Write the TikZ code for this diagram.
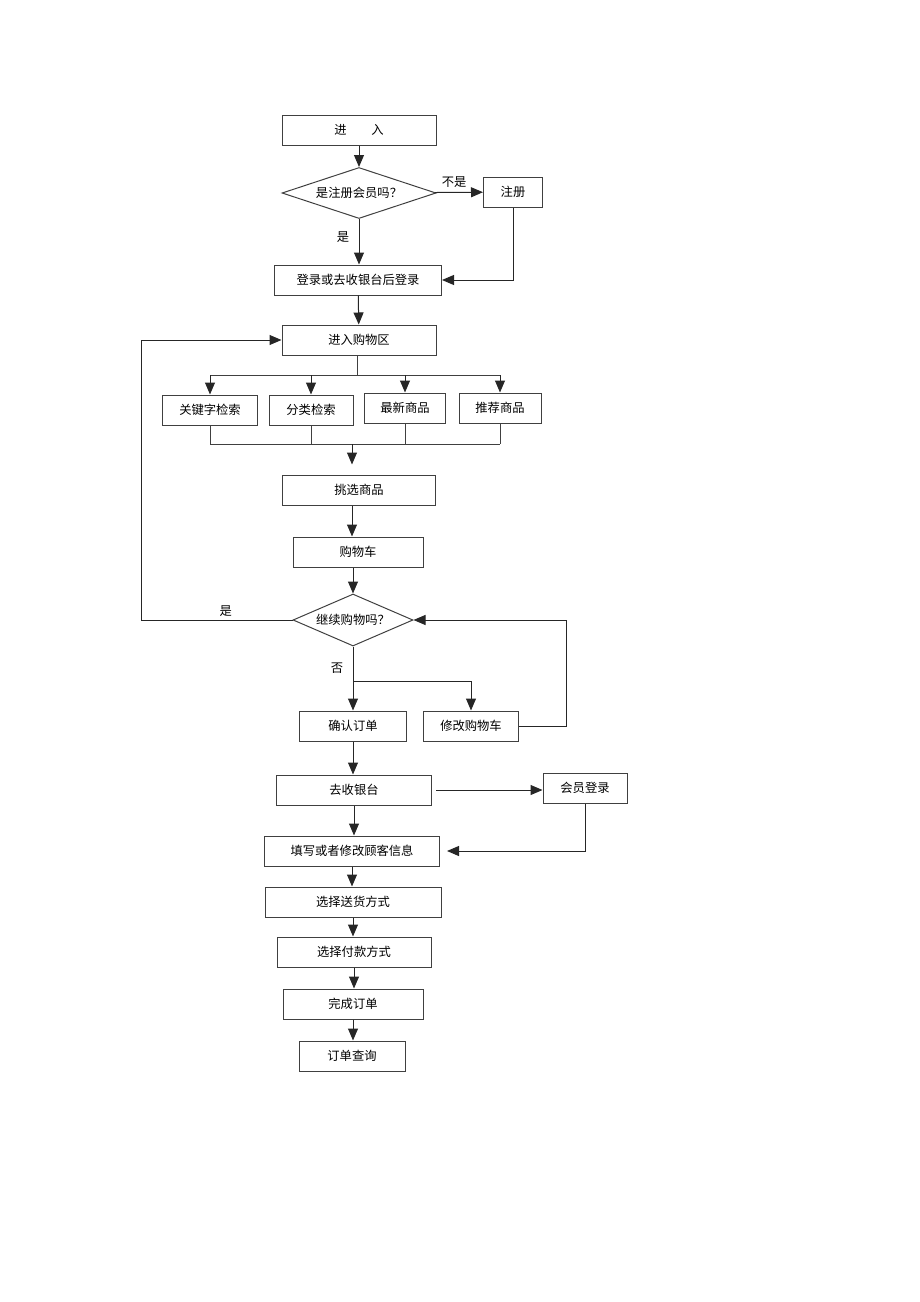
\documentclass[tikz,border=0pt]{standalone}
\usepackage{fontspec}
\newfontfamily\cjk{Noto Sans CJK SC}
\usetikzlibrary{positioning,calc,shapes.geometric,arrows.meta}
\tikzset{
    stepbox/.style={
        draw=black!75,
        line width=1pt,
        inner sep=0pt,
        minimum height=30pt
    },
    decision/.style={
        diamond,
        draw=black!75,
        line width=1pt,
        aspect=3,
        inner sep=0pt
    },
    arr/.style={
        -{Triangle[length=12pt,width=10pt]},
        line width=1pt,
        draw=black!85
    },
    wire/.style={
        line width=1pt,
        draw=black!75
    }
}

\begin{document}
\begin{tikzpicture}[x=1pt, y=-1pt, font=\cjk\fontsize{12.3}{14}\selectfont]
    \useasboundingbox (0,0) rectangle (920,1302);

    % 1. Vao, kiem tra hoi vien
    \node[stepbox, minimum width=154pt] (enter) at (359,130) {进\hspace{2em}入};
    \node[decision, minimum width=154pt, minimum height=51pt] (isMember) at (359,193) {是注册会员吗？};
    \node[stepbox, minimum width=59pt] (register) at (513,192) {注册};
    \node[stepbox, minimum width=167pt] (login) at (358,280) {登录或去收银台后登录};

    % 2. Khu mua sam va bon cach tim hang
    \node[stepbox, minimum width=154pt] (shopArea) at (359,340) {进入购物区};
    \node[stepbox, minimum width=95pt] (keyword) at (210,410) {关键字检索};
    \node[stepbox, minimum width=84pt] (category) at (311,410) {分类检索};
    \node[stepbox, minimum width=81pt] (newest) at (405,408) {最新商品};
    \node[stepbox, minimum width=82pt] (recommend) at (500,408) {推荐商品};

    % 3. Chon hang, gio hang
    \node[stepbox, minimum width=153pt] (pick) at (359,490) {挑选商品};
    \node[stepbox, minimum width=130pt] (cart) at (358,552) {购物车};
    \node[decision, minimum width=120pt, minimum height=52pt] (goOn) at (353,620) {继续购物吗？};
    \node[stepbox, minimum width=107pt] (confirm) at (353,726) {确认订单};
    \node[stepbox, minimum width=95pt] (modify) at (471,726) {修改购物车};

    % 4. Thanh toan
    \node[stepbox, minimum width=155pt] (cashier) at (354,790) {去收银台};
    \node[stepbox, minimum width=84pt] (memLogin) at (585,788) {会员登录};
    \node[stepbox, minimum width=175pt] (fillInfo) at (352,851) {填写或者修改顾客信息};
    \node[stepbox, minimum width=176pt] (delivery) at (353,902) {选择送货方式};
    \node[stepbox, minimum width=154pt] (payment) at (354,952) {选择付款方式};
    \node[stepbox, minimum width=140pt] (finish) at (353,1004) {完成订单};
    \node[stepbox, minimum width=106pt] (query) at (352,1056) {订单查询};

    % diem re nhanh
    \coordinate (split) at (357,375);
    \coordinate (merge) at (352,444);
    \coordinate (loopL) at (141,620);
    \coordinate (fork) at (353,681);
    \coordinate (loopR) at (566,726);

    % 5. Ve mui ten noi
    \draw[arr] (enter) -- (isMember);
    \draw[arr] (isMember) -- node[above=1pt, pos=0.4]{不是} (register);
    \draw[arr] (isMember.south) -- node[left=6pt, pos=0.4]{是} (isMember.south |- login.north);
    \draw[arr] (register.south) |- (login.east);
    \draw[arr] (login) -- (shopArea);

    \draw[wire] (shopArea.south -| split) -- (split);
    \draw[wire] (keyword.north |- split) -- (recommend.north |- split);
    \foreach \n in {keyword,category,newest,recommend}
        \draw[arr] (\n.north |- split) -- (\n.north);
    \foreach \n in {keyword,category,newest,recommend}
        \draw[wire] (\n.south) -- (\n.south |- merge);
    \draw[wire] (keyword.south |- merge) -- (recommend.south |- merge);
    \draw[arr] (merge) -- ($(merge |- pick.north)+(0,-10)$);

    \draw[arr] (pick.south -| merge) -- (cart.north -| merge);
    \draw[arr] (cart.south -| goOn) -- (goOn.north);
    \draw[arr] (goOn.west) -- node[above, pos=0.44]{是} (loopL) |- (shopArea.west);
    \draw[arr] (goOn.south) -- node[left=6pt, pos=0.34]{否} (confirm.north);
    \draw[arr] (fork) -| (modify.north);
    \draw[arr] (modify.east) -- (loopR) |- (goOn.east);

    \draw[arr] (confirm.south) -- (confirm.south |- cashier.north);
    \draw[arr] ([xshift=4pt]cashier.east) -- (memLogin.west |- cashier.east);
    \draw[arr] (memLogin.south) |- ([xshift=7pt]fillInfo.east);
    \foreach \a/\b in {cashier/fillInfo, fillInfo/delivery, delivery/payment, payment/finish, finish/query}
        \draw[arr] (\a.south) -- (\a.south |- \b.north);
\end{tikzpicture}
\end{document}
